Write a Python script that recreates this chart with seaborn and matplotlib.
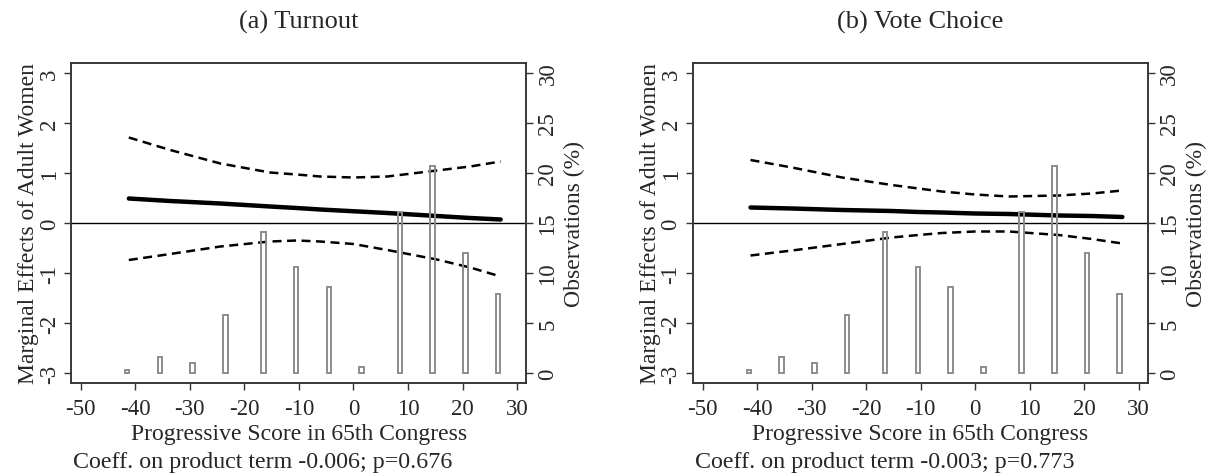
import numpy as np
import pandas as pd
import matplotlib
matplotlib.use("Agg")
import matplotlib.pyplot as plt
import seaborn as sns

# ---- data ----
score_bins = [-41.5, -35.5, -29.5, -23.5, -16.5, -10.5, -4.5, 1.5, 8.5, 14.5, 20.5, 26.5]
obs_pct = [0.3, 1.6, 1.0, 5.8, 14.1, 10.6, 8.6, 0.6, 16.1, 20.7, 12.0, 7.9]

curve_x = [-41.2, -33.6, -24.4, -15.3, -10.4, -6.1, 0.0, 6.2, 15.3, 21.4, 27.0]

turnout_est = [0.49, 0.44, 0.39, 0.33, 0.30, 0.27, 0.235, 0.20, 0.14, 0.10, 0.07]
turnout_hi = [1.71, 1.46, 1.19, 1.01, 0.97, 0.93, 0.91, 0.93, 1.05, 1.13, 1.23]
turnout_lo = [-0.74, -0.62, -0.47, -0.37, -0.35, -0.37, -0.42, -0.54, -0.73, -0.89, -1.07]

vote_est = [0.31, 0.29, 0.26, 0.24, 0.22, 0.21, 0.19, 0.18, 0.15, 0.14, 0.12]
vote_hi = [1.26, 1.11, 0.91, 0.76, 0.69, 0.63, 0.57, 0.53, 0.55, 0.59, 0.65]
vote_lo = [-0.65, -0.55, -0.42, -0.29, -0.24, -0.20, -0.17, -0.17, -0.24, -0.32, -0.41]

titles = ["(a) Turnout", "(b) Vote Choice"]
notes = ["Coeff. on product term -0.006; p=0.676", "Coeff. on product term -0.003; p=0.773"]
xticks = [-50, -40, -30, -20, -10, 0, 10, 20, 30]
yticks_left = [-3, -2, -1, 0, 1, 2, 3]
yticks_right = [0, 5, 10, 15, 20, 25, 30]
xlabel = "Progressive Score in 65th Congress"
ylabel_left = "Marginal Effects of Adult Women"
ylabel_right = "Observations (%)"

sns.set_style("ticks")
plt.rcParams["font.family"] = ["Liberation Serif", "DejaVu Serif"]
plt.rcParams["axes.unicode_minus"] = False

W, H = 1211, 477
fig = plt.figure(figsize=(W / 100, H / 100), dpi=100)

frame_col = "#333333"
bar_col = "#8c8c8c"
FS = 16.5

panels = [
    (71, turnout_est, turnout_hi, turnout_lo),
    (692.7, vote_est, vote_hi, vote_lo),
]

for i, (left_px, est, hi, lo) in enumerate(panels):
    ax = fig.add_axes([left_px / W, 1 - 384 / H, 455.3 / W, 320 / H])
    ax2 = ax.twinx()

    # bars on the right axis
    df_bar = pd.DataFrame({"score": score_bins, "pct": obs_pct})
    sns.barplot(data=df_bar, x="score", y="pct", ax=ax2, native_scale=True,
                width=0.14, errorbar=None, color=bar_col)
    for p in ax2.patches:
        p.set_facecolor("none")
        p.set_edgecolor(bar_col)
        p.set_linewidth(1.4)

    # lines on the left axis
    ax.axhline(0, color="black", lw=1.0, zorder=1)
    sns.lineplot(x=curve_x, y=est, ax=ax, color="black", lw=3.2,
                 estimator=None, sort=False, solid_capstyle="round")
    for arr in (hi, lo):
        sns.lineplot(x=curve_x, y=arr, ax=ax, color="black", lw=1.8,
                     estimator=None, sort=False)
        ax.lines[-1].set_dashes((3.6, 2.2))

    ax.set_xlim(-51.8, 31.7)
    ax.set_ylim(-3.2, 3.2)
    ax2.set_ylim(-1.0, 31.0)
    ax.set_xticks(xticks)
    ax.set_xticklabels([str(t) for t in xticks])
    ax.set_yticks(yticks_left)
    ax.set_yticklabels([str(t) for t in yticks_left])
    ax2.set_yticks(yticks_right)
    ax2.set_yticklabels([str(t) for t in yticks_right])

    for a in (ax, ax2):
        for s in a.spines.values():
            s.set_color(frame_col)
            s.set_linewidth(1.1)
            s.set_visible(True)
        a.tick_params(length=5, width=1.0, color=frame_col, labelsize=FS, pad=3)
    ax.tick_params(axis="x", pad=6)
    ax.tick_params(axis="y", labelrotation=90)
    ax2.tick_params(axis="y", labelrotation=90)
    for lab in ax.get_yticklabels() + ax2.get_yticklabels():
        lab.set_va("center")

    ax.set_xlabel(xlabel, fontsize=17, labelpad=3)
    ax.set_ylabel(ylabel_left, fontsize=17, labelpad=0)
    ax2.set_ylabel(ylabel_right, fontsize=17, labelpad=4)
    ax.grid(False)
    ax2.grid(False)

    cx = (left_px + 455.3 / 2) / W
    fig.text(cx, 1 - 22 / H, titles[i], ha="center", va="center", fontsize=19)
    fig.text((left_px + 2) / W, 1 - 463 / H, notes[i], ha="left", va="center", fontsize=17.3)

fig.savefig("out.png", dpi=100)
